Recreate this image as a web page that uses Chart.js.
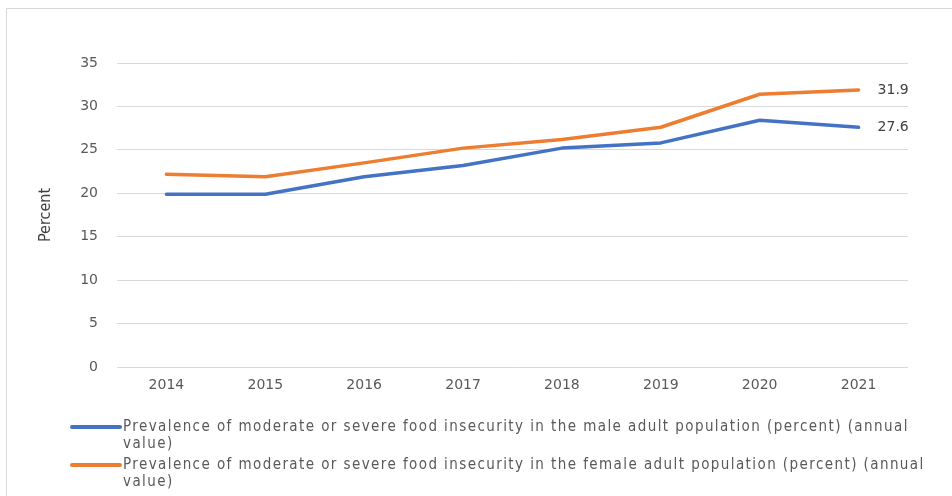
<!DOCTYPE html>
<html><head><meta charset="utf-8">
<script src="https://cdn.jsdelivr.net/npm/chart.js@4"></script>
<style>
html,body{margin:0;padding:0;background:#fff;}
#wrap{position:relative;width:952px;height:496px;overflow:hidden;background:#fff;}
#frame{position:absolute;left:6px;top:8px;width:1000px;height:600px;border:1px solid #d9d9d9;box-sizing:border-box;}
#c{position:absolute;left:0;top:0;}
#legend{position:absolute;left:70px;top:418px;font-family:"DejaVu Sans Condensed","DejaVu Sans",sans-serif;font-size:15px;letter-spacing:1.42px;color:#595959;}
.item{position:relative;padding-left:53px;width:830px;line-height:17px;margin-bottom:4px;}
.item:first-child{width:800px;}
.mk{position:absolute;left:0;top:7px;width:52px;height:4px;border-radius:2px;}
</style></head>
<body><div id="wrap"><div id="frame"></div><canvas id="c" width="952" height="496"></canvas><div id="legend"></div></div>
<script>
const years = ["2014","2015","2016","2017","2018","2019","2020","2021"];
const maleValues = [19.9, 19.9, 21.9, 23.2, 25.2, 25.8, 28.4, 27.6];
const femaleValues = [22.2, 21.9, 23.5, 25.2, 26.2, 27.6, 31.4, 31.9];
const seriesLabels = [
  "Prevalence of moderate or severe food insecurity in the male adult population (percent) (annual value)",
  "Prevalence of moderate or severe food insecurity in the female adult population (percent) (annual value)"
];
const yTicks = [0,5,10,15,20,25,30,35];
const colors = ["#4472C4","#ED7D31"];

const endLabels = {
  id:'endLabels',
  afterDatasetsDraw(chart){
    const ctx = chart.ctx;
    ctx.save();
    ctx.font = '14px "DejaVu Sans", sans-serif';
    ctx.fillStyle = '#404040';
    ctx.textBaseline = 'middle';
    ctx.textAlign = 'left';
    chart.data.datasets.forEach((ds,i)=>{
      const meta = chart.getDatasetMeta(i);
      const p = meta.data[meta.data.length-1];
      const v = ds.data[ds.data.length-1];
      ctx.fillText(v.toFixed(1), p.x + 19, p.y);
    });
    ctx.restore();
  }
};

const chart = new Chart(document.getElementById('c'), {
  type:'line',
  data:{
    labels: years,
    datasets:[
      {label: seriesLabels[0], data: maleValues, borderColor: colors[0], backgroundColor: colors[0], borderWidth:3.5, pointRadius:0, tension:0, borderCapStyle:'round', borderJoinStyle:'round'},
      {label: seriesLabels[1], data: femaleValues, borderColor: colors[1], backgroundColor: colors[1], borderWidth:3.5, pointRadius:0, tension:0, borderCapStyle:'round', borderJoinStyle:'round'}
    ]
  },
  options:{
    responsive:false,
    animation:false,
    layout:{padding:{left:20,right:44,top:63,bottom:0}},
    plugins:{legend:{display:false},tooltip:{enabled:false}},
    scales:{
      x:{
        offset:true,
        grid:{display:false},
        border:{display:false},
        ticks:{color:'#595959',font:{family:'"DejaVu Sans", sans-serif',size:14},padding:2,maxRotation:0},
        afterFit(s){ s.height = 129; }
      },
      y:{
        min:0,max:35,
        afterBuildTicks(s){ s.ticks = yTicks.map(v=>({value:v})); },
        grid:{color:'#d9d9d9',lineWidth:1,drawTicks:false},
        border:{display:false},
        ticks:{color:'#595959',font:{family:'"DejaVu Sans", sans-serif',size:14},padding:19},
        title:{display:true,text:'Percent',color:'#404040',font:{family:'"DejaVu Sans Condensed", sans-serif',size:16},padding:{top:16,bottom:0}},
        afterFit(s){ s.width = 97; }
      }
    }
  },
  plugins:[endLabels]
});

const lg = document.getElementById('legend');
seriesLabels.forEach((t,i)=>{
  const d = document.createElement('div'); d.className='item';
  const m = document.createElement('span'); m.className='mk'; m.style.background = colors[i];
  d.appendChild(m);
  d.appendChild(document.createTextNode(t));
  lg.appendChild(d);
});
</script></body></html>
